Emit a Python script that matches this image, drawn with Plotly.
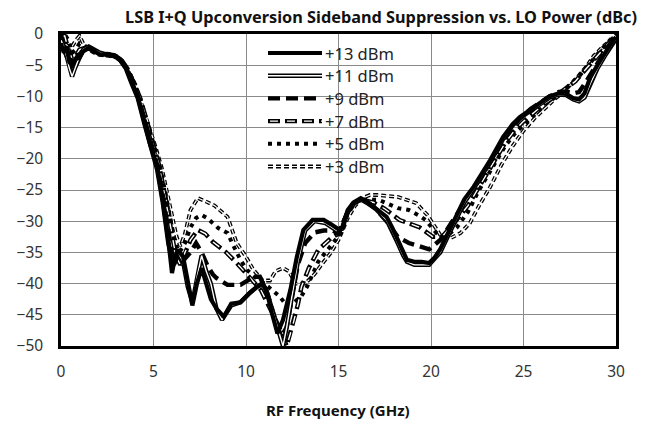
import plotly.graph_objects as go

# ---------------- data ----------------
f13 = [0.0, 0.15, 0.3, 0.45, 0.6, 0.8, 1.0, 1.2, 1.5, 1.8, 2.1, 2.5, 2.9, 3.2, 3.5, 3.8, 4.15, 4.5, 4.8, 5.2,
       5.5, 5.8, 6.0, 6.15, 6.3, 6.6, 6.85, 7.1, 7.35, 7.6, 7.85, 8.1, 8.4, 8.8, 9.2, 9.7, 10.2, 10.6, 10.9, 11.1,
       11.4, 11.7, 12.0, 12.4, 12.75, 13.1, 13.6, 14.2, 14.6, 15.0, 15.2, 15.5, 15.8, 16.2, 16.6, 16.9, 17.3, 17.6,
       17.9, 18.2, 18.5, 18.7, 19.1, 19.5, 19.9, 20.2, 20.5, 20.9, 21.4, 21.8, 22.3, 22.8, 23.2, 23.9, 24.4, 24.8,
       25.4, 25.9, 26.4, 26.9, 27.3, 27.7, 28.0, 28.3, 28.6, 29.0, 29.4, 29.8, 30.0]
v13 = [-1.5, -3.0, -2.0, -4.5, -5.0, -4.0, -3.8, -2.8, -2.2, -2.8, -3.3, -3.2, -3.4, -4.0, -5.3, -7.5, -10.0, -14.0, -17.5, -21.3,
       -26.6, -33.0, -38.3, -36.0, -34.6, -35.7, -40.0, -43.5, -40.0, -37.5, -40.0, -42.5, -44.0, -45.3, -43.2, -43.0, -41.5, -40.5, -40.0, -41.0,
       -44.7, -48.0, -45.8, -41.0, -35.7, -31.4, -29.8, -29.8, -30.5, -31.3, -31.0, -28.2, -27.0, -26.3, -27.0, -27.7, -28.5, -29.3,
       -31.0, -33.0, -35.0, -36.2, -36.5, -36.5, -36.7, -35.8, -34.5, -32.0, -29.0, -26.5, -24.5, -22.2, -20.2, -16.5, -14.5, -13.3,
       -12.0, -11.1, -10.0, -9.5, -9.6, -10.3, -10.5, -9.5, -7.0, -5.0, -3.0, -1.2, -0.5]

f11 = [0.0, 0.15, 0.3, 0.45, 0.6, 0.75, 0.95, 1.2, 1.5, 1.8, 2.1, 2.5, 2.9, 3.2, 3.5, 3.8, 4.15, 4.5, 4.8, 5.2,
       5.5, 5.8, 6.05, 6.3, 6.6, 6.85, 7.1, 7.35, 7.6, 7.85, 8.1, 8.4, 8.7, 9.2, 9.7, 10.2, 10.6, 10.9, 11.15, 11.4,
       11.7, 12.0, 12.2, 12.5, 12.8, 13.2, 13.7, 14.3, 14.9, 15.2, 15.5, 15.8, 16.2, 16.6, 17.0, 17.6, 17.9, 18.2,
       18.5, 18.7, 19.1, 19.5, 19.9, 20.2, 20.5, 20.9, 21.4, 21.8, 22.3, 22.8, 23.2, 23.9, 24.4, 24.8, 25.4, 25.9,
       26.4, 26.9, 27.3, 27.7, 28.0, 28.3, 28.6, 29.0, 29.4, 29.8, 30.0]
v11 = [-1.0, -2.0, -3.5, -5.5, -6.8, -5.5, -4.0, -2.5, -2.0, -2.6, -3.0, -3.3, -3.5, -4.2, -5.5, -7.8, -10.3, -14.3, -17.8, -21.8,
       -27.0, -33.5, -37.0, -34.8, -36.5, -40.5, -43.0, -39.0, -35.5, -38.0, -40.0, -44.0, -45.8, -43.5, -43.0, -41.5, -40.5, -40.0, -41.5, -44.0,
       -47.0, -50.0, -47.0, -42.0, -36.5, -31.5, -30.0, -30.3, -31.5, -31.2, -28.5, -27.2, -26.5, -27.2, -28.0, -29.8, -31.5, -33.5,
       -35.5, -36.5, -37.0, -37.0, -37.0, -36.0, -35.0, -32.5, -29.5, -27.0, -24.8, -22.5, -20.5, -16.8, -14.7, -13.5, -12.2, -11.3,
       -10.2, -9.7, -9.8, -10.5, -10.8, -10.2, -8.0, -5.5, -3.5, -1.5, -0.8]

f9 = [0.0, 0.15, 0.3, 0.5, 0.7, 0.9, 1.2, 1.5, 1.8, 2.1, 2.5, 2.9, 3.2, 3.5, 3.8, 4.15, 4.5, 4.8, 5.2, 5.5,
      5.8, 6.1, 6.4, 6.7, 7.0, 7.3, 7.6, 7.9, 8.2, 8.4, 9.0, 9.7, 10.1, 10.4, 10.75, 11.2, 11.6, 11.9, 12.2, 12.5,
      12.8, 13.2, 13.7, 14.2, 14.7, 15.0, 15.5, 15.8, 16.2, 16.6, 17.0, 17.6, 18.2, 18.8, 19.4, 19.9, 20.5, 21.2,
      21.6, 22.1, 22.6, 23.2, 23.9, 24.4, 24.8, 25.4, 25.9, 26.4, 26.9, 27.3, 27.7, 28.0, 28.3, 28.6, 29.0, 29.4,
      29.8, 30.0]
v9 = [0.0, -2.5, -3.5, -3.0, -4.5, -3.5, -2.6, -2.3, -2.8, -3.2, -3.3, -3.5, -4.1, -5.4, -7.3, -9.8, -13.5, -17.0, -21.0, -25.8,
      -31.0, -37.0, -35.0, -36.0, -35.0, -33.5, -35.0, -37.0, -38.5, -39.1, -40.2, -40.2, -39.5, -38.9, -38.9, -42.0, -46.0, -48.5, -47.0, -42.0,
      -37.0, -33.5, -31.8, -31.5, -31.5, -32.0, -28.5, -27.2, -26.5, -27.0, -28.0, -30.0, -32.5, -33.5, -34.0, -34.5, -33.0, -30.0,
      -28.0, -25.5, -23.5, -20.5, -17.0, -15.0, -13.5, -12.0, -11.0, -10.0, -9.3, -9.2, -9.5, -9.3, -8.0, -6.5, -4.5, -2.8,
      -1.0, -0.3]

f7 = [0.0, 0.2, 0.4, 0.6, 0.8, 1.0, 1.3, 1.6, 1.9, 2.2, 2.6, 3.0, 3.3, 3.6, 3.9, 4.25, 4.6, 4.9, 5.3, 5.6,
      5.9, 6.2, 6.45, 6.7, 7.0, 7.4, 7.8, 8.2, 8.9, 9.5, 10.2, 10.8, 11.3, 11.8, 12.2, 12.5, 12.8, 13.0, 13.4, 13.9,
      14.6, 15.0, 15.5, 15.9, 16.2, 16.9, 17.5, 18.3, 19.4, 20.1, 20.6, 21.2, 22.0, 22.6, 23.3, 24.0, 24.5, 25.0,
      25.6, 26.1, 26.6, 27.0, 27.4, 27.8, 28.2, 28.6, 29.0, 29.5, 30.0]
v7 = [-0.5, -0.3, -2.5, -4.0, -3.5, -2.5, -2.2, -2.4, -2.9, -3.3, -3.3, -3.6, -4.3, -5.6, -7.6, -10.0, -13.5, -17.0, -21.0, -25.5,
      -30.5, -35.5, -37.0, -35.0, -33.0, -31.4, -32.0, -33.3, -34.9, -36.7, -39.1, -41.0, -44.0, -47.0, -50.0, -47.0, -43.4, -40.5, -37.5, -34.6,
      -32.7, -32.0, -28.5, -27.0, -26.5, -27.0, -28.0, -29.8, -31.0, -32.5, -32.5, -30.5, -27.5, -24.5, -21.0, -17.5, -15.5, -14.0,
      -12.5, -11.2, -10.2, -9.3, -8.5, -7.6, -6.2, -4.8, -3.5, -1.8, -0.2]

f5 = [0.0, 0.2, 0.4, 0.6, 0.8, 1.0, 1.3, 1.6, 1.9, 2.2, 2.6, 3.0, 3.3, 3.6, 3.9, 4.3, 4.65, 5.0, 5.35, 5.65,
      5.9, 6.15, 6.4, 6.7, 7.0, 7.3, 7.6, 7.9, 8.5, 9.0, 9.3, 9.7, 10.05, 10.5, 11.0, 11.4, 11.8, 12.2, 12.6, 13.0,
      13.3, 13.6, 13.9, 14.3, 14.8, 15.1, 15.5, 15.9, 16.3, 16.8, 17.2, 18.2, 18.8, 19.3, 19.7, 20.3, 20.8, 21.4,
      22.0, 22.6, 23.3, 24.0, 24.6, 25.2, 25.8, 26.3, 26.8, 27.2, 27.6, 28.0, 28.5, 29.0, 29.5, 30.0]
v5 = [-1.0, 0.0, -1.0, -3.0, -2.5, -1.5, -2.0, -2.5, -3.0, -3.3, -3.4, -3.7, -4.5, -5.8, -7.5, -10.5, -14.0, -17.5, -21.3, -25.5,
      -29.5, -33.5, -35.0, -33.5, -31.0, -29.5, -29.0, -29.5, -31.1, -31.9, -33.8, -36.2, -37.8, -39.0, -40.0, -41.0, -42.0, -43.5, -43.0, -42.0,
      -40.5, -38.5, -36.5, -35.0, -33.0, -32.0, -28.8, -27.0, -26.5, -26.5, -26.6, -27.9, -28.2, -29.0, -29.8, -31.9, -32.5, -31.0,
      -28.5, -25.0, -21.5, -18.0, -15.7, -14.0, -12.3, -11.0, -10.0, -9.0, -8.0, -6.8, -5.0, -3.2, -1.5, 0.0]

f3 = [0.0, 0.2, 0.4, 0.6, 0.8, 1.0, 1.2, 1.5, 1.9, 2.2, 2.6, 3.0, 3.3, 3.7, 4.0, 4.4, 4.75, 5.1, 5.45, 5.75,
      6.0, 6.25, 6.45, 6.7, 7.0, 7.4, 7.8, 8.3, 9.0, 9.5, 10.0, 10.4, 10.9, 11.3, 11.6, 12.0, 12.3, 12.7, 13.2, 13.7,
      14.2, 14.6, 15.0, 15.5, 15.9, 16.3, 16.7, 17.1, 18.2, 19.2, 19.8, 20.1, 20.5, 21.0, 21.6, 22.1, 22.6, 23.2,
      23.8, 24.4, 25.0, 25.6, 26.2, 26.7, 27.2, 27.6, 28.0, 28.4, 28.8, 29.3, 29.7, 30.0]
v3 = [-0.5, -1.5, -2.0, -2.0, -1.0, -0.3, -1.5, -2.5, -3.2, -3.4, -3.5, -3.8, -4.6, -6.2, -8.0, -11.5, -14.5, -18.0, -21.5, -25.5,
      -29.0, -32.5, -34.0, -32.0, -28.2, -26.3, -26.8, -27.5, -29.3, -33.5, -35.7, -37.8, -39.5, -39.5, -38.0, -37.5, -38.0, -40.0, -40.0, -38.5,
      -36.5, -35.0, -33.0, -29.5, -27.5, -26.3, -25.8, -25.8, -26.1, -27.1, -29.0, -30.3, -32.2, -32.8, -31.9, -30.3, -27.5, -24.5,
      -21.0, -18.0, -15.5, -13.5, -11.8, -10.4, -9.2, -8.0, -6.6, -5.2, -3.5, -2.0, -1.0, -0.3]

series_names = ["+13 dBm", "+11 dBm", "+9 dBm", "+7 dBm", "+5 dBm", "+3 dBm"]
x_ticks = [0, 5, 10, 15, 20, 25, 30]
y_ticks = [0, -5, -10, -15, -20, -25, -30, -35, -40, -45, -50]

# ---------------- styles ----------------
# each style: list of (width, color, dash) layers drawn on top of each other
styles = {
    "+13 dBm": [(4.2, "black", "solid")],
    "+11 dBm": [(4.4, "black", "solid"), (1.4, "white", "solid")],
    "+9 dBm": [(4.4, "black", "12px,6px")],
    "+7 dBm": [(4.4, "black", "12px,5px"), (1.4, "white", "0px,2px,8px,7px")],
    "+5 dBm": [(4.0, "black", "4px,5px")],
    "+3 dBm": [(3.8, "black", "5px,3px"), (1.2, "white", "5px,3px")],
}
data = {
    "+13 dBm": (f13, v13), "+11 dBm": (f11, v11), "+9 dBm": (f9, v9),
    "+7 dBm": (f7, v7), "+5 dBm": (f5, v5), "+3 dBm": (f3, v3),
}

FONT = "Noto Sans"
fig = go.Figure()
for name in reversed(series_names):
    fx, fy = data[name]
    for (w, c, d) in styles[name]:
        fig.add_trace(go.Scatter(x=fx, y=fy, mode="lines", name=name, showlegend=False,
                                 line=dict(color=c, width=w, dash=d), hoverinfo="skip"))

# plot-area geometry in pixels (for legend placement)
L, R, T, B = 61, 616, 34, 346
W, H = R - L, B - T

def px_x(p):
    return (p - L) / W

def px_y(p):
    return 1 - (p - T) / H

shapes = [dict(type="rect", xref="paper", yref="paper", x0=px_x(259), x1=px_x(402),
               y0=px_y(178), y1=px_y(41), fillcolor="white", line=dict(width=0), layer="between")]
annotations = []
for i, name in enumerate(series_names):
    yc = 53 + 22.7 * i
    for (w, c, d) in styles[name]:
        shapes.append(dict(type="line", xref="paper", yref="paper", x0=px_x(268), x1=px_x(322),
                           y0=px_y(yc), y1=px_y(yc), line=dict(color=c, width=w, dash=d), layer="above"))
    annotations.append(dict(text=name, xref="paper", yref="paper", x=px_x(323), y=px_y(yc),
                            xanchor="left", yanchor="middle", showarrow=False,
                            font=dict(family=FONT, size=16.5, color="#222")))

annotations.append(dict(text="<b>RF Frequency (GHz)</b>", xref="paper", yref="paper",
                        x=px_x(338), y=px_y(410), xanchor="center", yanchor="middle", showarrow=False,
                        font=dict(family=FONT, size=15, color="#111")))

axis_common = dict(showgrid=True, gridcolor="#8a8a8a", gridwidth=1, zeroline=False,
                   showline=True, mirror=True, linecolor="black", linewidth=2.5, ticks="",
                   tickfont=dict(family=FONT, size=15.5, color="#333"))

fig.update_layout(
    width=645, height=424,
    margin=dict(l=L, r=645 - R, t=T, b=424 - B),
    paper_bgcolor="white", plot_bgcolor="white",
    showlegend=False,
    title=dict(text="<b>LSB I+Q Upconversion Sideband Suppression vs. LO Power (dBc)</b>",
               xref="container", yref="container", x=381 / 645, y=1 - 17 / 424,
               xanchor="center", yanchor="middle",
               font=dict(family=FONT, size=16.3, color="#111")),
    xaxis=dict(range=[0, 30], tickvals=x_ticks, ticklabelstandoff=10, **axis_common),
    yaxis=dict(range=[-50, 0], tickvals=y_ticks, ticklabelstandoff=12, **axis_common),
    shapes=shapes, annotations=annotations,
)

fig.write_html("out.html", config={"displayModeBar": False},
               post_script="document.body.style.margin='0';document.body.style.padding='0';")
